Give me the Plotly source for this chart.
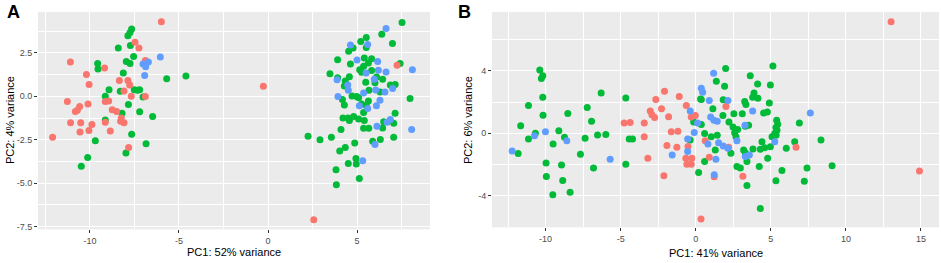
import plotly.graph_objects as go

# ---------------- Panel A data ----------------
a_red_x = [-5.99, -11.1, -10.2, -10.05, -11.27, -10.58, -10.71, -10.82, -10.11, -11.09, -10.52, -9.89,
           -10.56, -10.06, -12.1, -9.18, -8.35, -7.87, -7.77, -8.09, -7.68, -6.89, -8.95, -9.14, -8.75,
           -8.50, -8.24, -8.09, -8.28, -9.14, -8.86, -7.83, -7.47, -7.25, -6.89, -0.26, 2.57, 7.25]
a_red_y = [4.28, 1.97, 1.25, 0.68, -0.30, -0.59, -0.80, -0.87, -0.45, -1.53, -1.53, -1.63,
           -2.06, -1.97, -2.35, 1.63, 0.91, 0.91, 0.64, 0.30, 0.0, -0.02, -0.27, -0.30, -0.78,
           -0.87, -1.25, -1.53, -1.44, -1.50, -2.0, -2.95, 3.11, 2.77, 2.06, 0.57, -7.10, 1.78]

a_green_x = [-7.66, -7.75, -7.87, -8.41, -7.73, -7.55, -7.96, -7.75, -9.57, -9.55, -8.13, -5.69, -8.93,
             -8.30, -7.51, -7.21, -7.34, -7.02, -9.14, -7.84, -7.21, -8.20, -6.48, -9.14, -7.66, -9.70,
             -6.85, -7.98, -10.13, -10.49, -4.61, 2.25,
             7.53, 6.39, 6.99, 5.52, 5.21, 5.52, 4.78, 4.53, 3.91, 4.63, 5.41, 5.82, 5.64, 5.37, 5.15,
             5.26, 5.82, 7.42, 3.48, 3.91, 4.57, 4.34, 4.29, 5.49, 6.10, 6.44, 6.01, 6.87, 7.14, 5.67,
             6.30, 4.72, 4.98, 5.09, 7.98, 4.18, 4.29, 5.26, 5.64, 5.52, 5.37, 7.14, 4.21, 4.49, 4.81,
             5.09, 5.41, 4.57, 7.06, 6.50, 6.44, 5.37, 5.66, 4.10, 7.06, 2.92, 3.56, 5.88, 6.31, 4.87,
             4.34, 4.03, 4.94, 4.96, 4.51, 3.82, 5.13, 3.84]
a_green_y = [3.86, 3.67, 3.47, 2.77, 2.92, 2.29, 2.0, 1.88, 1.88, 1.57, 1.33, 1.0, 0.38,
             0.28, 0.38, 0.38, 0.34, -0.04, 0.0, -0.47, -0.89, -0.98, -1.17, -1.36, -2.18, -2.56,
             -2.73, -3.26, -3.52, -4.02, 1.17, -2.30,
             4.24, 3.56, 3.03, 3.37, 3.14, 2.80, 2.77, 2.58, 2.10, 1.86, 2.20, 2.16, 1.91, 1.72, 1.53,
             1.38, 1.48, 1.88, 1.29, 1.06, 1.12, 0.87, 0.59, 0.81, 1.10, 0.97, 0.78, 0.64, 0.68, 0.34,
             0.25, 0.02, -0.02, -0.08, -0.13, -0.19, -0.51, -0.45, -0.27, -0.55, -0.93, -0.98, -1.25, -1.25, -1.17,
             -1.31, -1.40, -1.40, -1.55, -1.46, -1.82, -1.84, -1.84, -1.91, -2.35, -2.50, -2.35, -2.59, -2.48, -2.69,
             -2.95, -3.14, -3.58, -3.90, -3.86, -4.22, -4.73, -5.08]

a_blue_x = [-6.05, -6.72, -7.02, -6.87, -6.93, 6.63, 4.63, 5.60, 5.0, 6.16, 8.11, 6.63, 6.20, 5.51, 3.88,
            4.48, 5.97, 7.0, 6.57, 6.05, 5.37, 4.51, 3.93, 6.29, 6.09, 5.13, 5.60, 6.69, 6.87, 6.12, 8.07,
            6.01, 5.32]
a_blue_y = [2.25, 1.97, 1.86, 1.69, 1.19, 3.90, 2.95, 2.97, 2.08, 2.0, 1.52, 1.40, 1.50, 1.34, 0.95,
            0.64, 0.97, 0.44, 0.25, 0.36, 0.19, 0.34, -0.02, -0.23, -0.55, -0.55, -0.70, -1.50, -1.34, -1.72, -1.91,
            -2.77, -3.71]

# ---------------- Panel B data ----------------
b_red_x = [-2.08, -2.66, -1.10, -0.63, -3.03, -2.92, -2.74, -2.28, -1.81, -4.77, -4.37, -3.43, -3.43,
           -1.63, -1.19, -1.92, -1.26, -3.19, -0.66, -0.26, -0.30, -0.59, -2.12, -0.30, -0.52, 2.01,
           -0.03, 0.90, 2.19, 0.63, 3.14, 1.23, 0.35, 6.68, 13.01, 14.9]
b_red_y = [2.69, 2.16, 2.35, 1.78, 1.42, 1.19, 1.0, 1.57, 1.06, 0.66, 0.68, 0.66, -0.23,
           0.09, 0.13, -0.80, -0.91, -1.61, -1.61, -1.61, -1.99, -1.99, -2.73, 1.04, -0.86, 1.72,
           1.14, -1.55, -0.91, -0.49, -2.77, -2.80, -5.52, -0.91, 7.16, -2.43]

b_green_x = [-10.39, -10.19, -10.28, -10.19, -11.14, -10.17, -6.30, -8.52, -7.23, -6.94, -11.66, -10.68,
             -11.14, -9.12, -8.74, -9.50, -7.37, -6.54, -5.99, -7.68, -11.83, -9.97, -8.94, -6.81, -9.95,
             -8.86, -9.52, -8.37,
             -4.66, -4.43, -4.21, -4.66, 0.37, -0.14, 0.59, -0.37,
             1.99, 5.14, 3.63, 1.37, 1.92, 4.12, 4.97, 0.32, 1.83, 3.88, 3.79, 4.14, 3.26, 3.34, 4.90,
             1.14, 1.81, 2.54, 3.10, 4.52, 4.77, 5.39, 5.46, 2.21, 2.48, 2.79, 3.30, 3.52, 0.37, 5.34,
             5.26, 5.08, 1.03, 2.59, 2.68, 4.41, 4.59, 4.30, 4.97, 2.34, 3.19, 3.30, 3.81, 1.30, 0.59,
             2.74, 2.97, 3.41, 4.23, 4.79, 5.74, 5.34, 3.41, 0.19, 4.30, 1.43,
             6.90, 8.34, 6.59, 6.03, 9.08, 7.41, 7.23, 5.41, 5.35]
b_green_y = [4.06, 3.68, 3.51, 2.31, 1.78, 1.15, 2.58, 1.27, 1.65, 0.76, 0.47, 0.0,
             -0.38, 0.15, -0.27, -0.70, -0.32, -0.11, -0.08, -1.35, -1.31, -1.92, -2.05, -2.24, -2.79,
             -3.04, -3.95, -3.80,
             2.26, -0.38, -0.38, -1.99, 2.16, 0.72, -0.02, -0.44,
             4.15, 4.32, 3.69, 3.33, 3.01, 3.16, 3.09, 2.20, 2.14, 2.58, 2.31, 2.24, 2.03, 1.84, 1.93,
             1.57, 1.14, 1.25, 1.25, 1.29, 1.36, 0.83, 0.57, 0.72, 0.40, 0.23, 0.45, 0.51, 0.55, 0.36,
             -0.02, -0.23, -0.23, 0.02, -0.23, -0.55, -0.93, -1.04, -0.87, -1.29, -1.08, -1.25, -1.02, -1.08, -1.82,
             -2.14, -2.24, -1.82, -2.14, -1.61, -2.39, -3.05, -3.36, -2.52, -4.83, -0.13,
             0.66, -0.44, -0.55, -0.97, -2.09, -2.24, -3.09, 0.19, -0.13]

b_blue_x = [-10.01, -10.74, -8.59, -12.23, -5.70, 0.37, 0.46, -0.37, 0.12, -0.10, -0.54, -0.54, -1.57,
            1.19, 0.90, 0.99, 1.21, 1.43, 3.28, 3.79, 2.74, 1.52, 1.83, 2.14, 0.81, 3.57, 3.30, 1.34,
            1.23, 5.26, 7.63, 2.14]
b_blue_y = [0.09, -0.17, -0.49, -1.14, -1.67, 2.88, 2.63, 1.42, 0.66, 0.04, -0.38, -1.18, -1.40,
            3.85, 2.10, 1.04, 0.83, 0.76, 0.51, 1.42, -0.49, -0.61, -0.83, -0.97, -0.70, -1.40, -1.50, -1.67,
            -2.67, -0.55, 1.29, 2.10]

# ---------------- Axis ticks ----------------
a_x_ticks = [-10, -5, 0, 5]
a_x_text = ["-10", "-5", "0", "5"]
a_x_minor = [-12.5, -7.5, -2.5, 2.5, 7.5]
a_y_ticks = [2.5, 0, -2.5, -5, -7.5]
a_y_text = ["2.5", "0.0", "-2.5", "-5.0", "-7.5"]
a_y_minor = [3.75, 1.25, -1.25, -3.75, -6.25]
b_x_ticks = [-10, -5, 0, 5, 10, 15]
b_x_text = ["-10", "-5", "0", "5", "10", "15"]
b_x_minor = [-12.5, -7.5, -2.5, 2.5, 7.5, 12.5]
b_y_ticks = [-4, 0, 4]
b_y_text = ["-4", "0", "4"]
b_y_minor = [-6, -2, 2, 6]

RED = "#F8766D"
GREEN = "#00BA38"
BLUE = "#619CFF"
FONT = "Liberation Sans, Arial, sans-serif"
W, H = 941, 263

fig = go.Figure()


def add(x, y, color, xa, ya):
    fig.add_trace(go.Scatter(x=x, y=y, mode="markers", xaxis=xa, yaxis=ya, showlegend=False,
                             hoverinfo="skip",
                             marker=dict(color=color, size=7, line=dict(width=0))))


add(a_green_x, a_green_y, GREEN, "x", "y")
add(a_red_x, a_red_y, RED, "x", "y")
add(a_blue_x, a_blue_y, BLUE, "x", "y")
add(b_green_x, b_green_y, GREEN, "x2", "y2")
add(b_red_x, b_red_y, RED, "x2", "y2")
add(b_blue_x, b_blue_y, BLUE, "x2", "y2")


def ax(domain, rng, tv, tt, minor, anchor):
    return dict(domain=domain, range=rng, tickmode="array", tickvals=tv, ticktext=tt,
                showgrid=True, gridcolor="white", gridwidth=1.3, zeroline=False, showline=False,
                ticks="outside", ticklen=3, tickwidth=1, tickcolor="#333333",
                tickfont=dict(family=FONT, size=9, color="#4D4D4D"),
                minor=dict(tickmode="array", tickvals=minor, showgrid=True, gridcolor="white",
                           gridwidth=0.6, ticks=""),
                anchor=anchor, fixedrange=True)


def px(v):
    return v / W


def py(v):
    return (H - v) / H


fig.update_layout(
    width=W, height=H,
    margin=dict(l=0, r=0, t=0, b=0),
    paper_bgcolor="white", plot_bgcolor="#EBEBEB",
    xaxis=ax([px(38), px(430)], [-12.92, 9.10], a_x_ticks, a_x_text, a_x_minor, "y"),
    yaxis=ax([py(232), py(12)], [-7.65, 4.85], a_y_ticks, a_y_text, a_y_minor, "x"),
    xaxis2=ax([px(492), px(939)], [-13.57, 16.2], b_x_ticks, b_x_text, b_x_minor, "y2"),
    yaxis2=ax([py(230), py(12)], [-6.05, 7.79], b_y_ticks, b_y_text, b_y_minor, "x2"),
)

annots = [
    dict(text="<b>A</b>", x=px(13), y=py(12), size=18),
    dict(text="<b>B</b>", x=px(464.5), y=py(12), size=18),
    dict(text="PC1: 52% variance", x=px(234), y=py(254.5), size=11),
    dict(text="PC1: 41% variance", x=px(715.5), y=py(255.5), size=11),
    dict(text="PC2: 4% variance", x=px(9.5), y=py(122), size=11, angle=-90),
    dict(text="PC2: 6% variance", x=px(468), y=py(121.5), size=11, angle=-90),
]
for a in annots:
    fig.add_annotation(text=a["text"], x=a["x"], y=a["y"], xref="paper", yref="paper",
                       showarrow=False, xanchor="center", yanchor="middle",
                       textangle=a.get("angle", 0),
                       font=dict(family=FONT, size=a["size"], color="black"))

fig.write_html("out.html", config={"displayModeBar": False},
               post_script="document.body.style.margin='0';document.body.style.padding='0';")
